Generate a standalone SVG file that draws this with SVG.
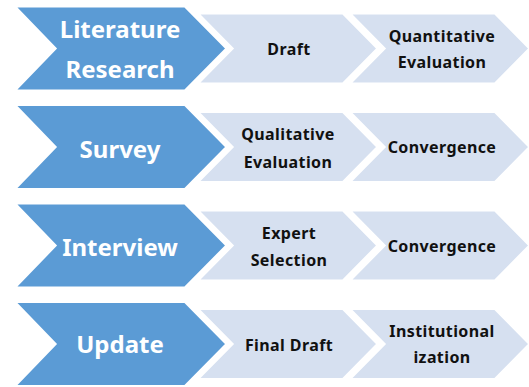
<svg xmlns="http://www.w3.org/2000/svg" width="529" height="387" viewBox="0 0 529 387">
  <defs>
    <style>
      .step { fill: #D6E0F0; stroke: #FFFFFF; stroke-width: 3; stroke-linejoin: miter; }
      .head { fill: #5B9BD5; stroke: #FFFFFF; stroke-width: 3; stroke-linejoin: miter; }
      .headText { font-family: "Noto Sans", "Open Sans", sans-serif; font-weight: bold; font-size: 24px; fill: #FFFFFF; text-anchor: middle; }
      .stepText { font-family: "Noto Sans", "Open Sans", sans-serif; font-weight: bold; font-size: 16px; letter-spacing: 0.4px; fill: #111111; text-anchor: middle; }
    </style>
    <!-- chevron outlines, drawn relative to the top of each row -->
    <polygon id="stepA" points="197,7 343,7 378,42.5 343,78 197,78 232,42.5"/>
    <polygon id="stepB" points="349,7 495,7 530,42.5 495,78 349,78 384,42.5"/>
    <polygon id="headShape" points="14,0 185,0 227,42.5 185,85 14,85 55,42.5"/>
  </defs>
  <rect width="529" height="387" fill="#FFFFFF"/>

  <!-- row 1 -->
  <g id="row-literature" transform="translate(0,6)">
    <g id="quantitative-evaluation">
      <use href="#stepB" class="step"/>
      <text class="stepText" x="442" y="36">Quantitative</text>
      <text class="stepText" x="442" y="62">Evaluation</text>
    </g>
    <g id="draft">
      <use href="#stepA" class="step"/>
      <text class="stepText" x="289" y="49">Draft</text>
    </g>
    <g id="literature-research">
      <use href="#headShape" class="head"/>
      <text class="headText" x="120" y="32">Literature</text>
      <text class="headText" x="120" y="72">Research</text>
    </g>
  </g>

  <!-- row 2 -->
  <g id="row-survey" transform="translate(0,104.5)">
    <g id="convergence-1">
      <use href="#stepB" class="step"/>
      <text class="stepText" x="442" y="48">Convergence</text>
    </g>
    <g id="qualitative-evaluation">
      <use href="#stepA" class="step"/>
      <text class="stepText" x="288" y="35.5">Qualitative</text>
      <text class="stepText" x="288" y="63.5">Evaluation</text>
    </g>
    <g id="survey">
      <use href="#headShape" class="head"/>
      <text class="headText" x="120" y="53.5">Survey</text>
    </g>
  </g>

  <!-- row 3 -->
  <g id="row-interview" transform="translate(0,203)">
    <g id="convergence-2">
      <use href="#stepB" class="step"/>
      <text class="stepText" x="442" y="49">Convergence</text>
    </g>
    <g id="expert-selection">
      <use href="#stepA" class="step"/>
      <text class="stepText" x="289" y="36">Expert</text>
      <text class="stepText" x="289" y="63">Selection</text>
    </g>
    <g id="interview">
      <use href="#headShape" class="head"/>
      <text class="headText" x="120" y="53">Interview</text>
    </g>
  </g>

  <!-- row 4 -->
  <g id="row-update" transform="translate(0,301.5)">
    <g id="institutionalization">
      <use href="#stepB" class="step"/>
      <text class="stepText" x="442" y="35.5">Institutional</text>
      <text class="stepText" x="442" y="61.5">ization</text>
    </g>
    <g id="final-draft">
      <use href="#stepA" class="step"/>
      <text class="stepText" x="289" y="49.5">Final Draft</text>
    </g>
    <g id="update">
      <use href="#headShape" class="head"/>
      <text class="headText" x="120" y="51.5">Update</text>
    </g>
  </g>

  <g id="connectors"/>
</svg>
